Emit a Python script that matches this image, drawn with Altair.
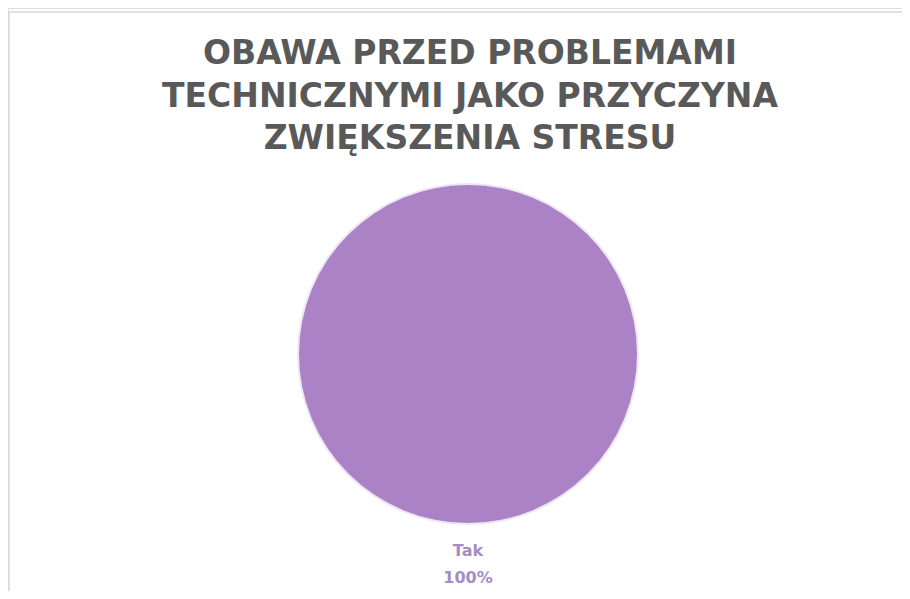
import altair as alt
import pandas as pd

# Data
kategorie = ["Tak"]
wartosci = [100]
title_lines = ["OBAWA PRZED PROBLEMAMI", "TECHNICZNYMI JAKO PRZYCZYNA", "ZWIĘKSZENIA STRESU"]

df = pd.DataFrame({"kategoria": kategorie, "wartosc": wartosci})
df_title = pd.DataFrame({"tytul": [title_lines]})

W, H = 894, 583
cx, cy, R = 460, 346, 169

base = alt.Chart(df)

frame_top = base.mark_rule(color="#d9d9d9", strokeWidth=1.5).encode(
    x=alt.value(1), x2=alt.value(W + 20), y=alt.value(4)
)
frame_left = base.mark_rule(color="#d9d9d9", strokeWidth=1.5).encode(
    x=alt.value(1), y=alt.value(4), y2=alt.value(H + 20)
)

title = alt.Chart(df_title).mark_text(
    font="DejaVu Sans", fontSize=33, fontWeight="bold", color="#595959",
    lineHeight=42.5, baseline="alphabetic", align="center"
).encode(
    text="tytul:N",
    x=alt.value(462), y=alt.value(56),
)

glow = base.mark_arc(outerRadius=R + 2, color="#ece3f3", opacity=0.9).encode(
    theta=alt.Theta("wartosc:Q", stack=True),
    x=alt.value(cx), y=alt.value(cy),
)

pie = base.mark_arc(outerRadius=R, color="#ab82c5").encode(
    theta=alt.Theta("wartosc:Q", stack=True),
    x=alt.value(cx), y=alt.value(cy),
)

label = base.transform_calculate(
    etykieta="[datum.kategoria, datum.wartosc + '%']"
).mark_text(
    font="DejaVu Sans", fontSize=16, fontWeight="bold", color="#a58cc4",
    lineHeight=27, baseline="alphabetic", align="center"
).encode(
    text="etykieta:N",
    x=alt.value(cx), y=alt.value(548),
)

chart = alt.layer(frame_top, frame_left, title, glow, pie, label).properties(
    width=W, height=H,
    autosize=alt.AutoSizeParams(type="none"),
    padding=0,
).configure_view(stroke=None).configure(background="white")

chart.save("out.html", embed_options={"renderer": "svg", "actions": False})
